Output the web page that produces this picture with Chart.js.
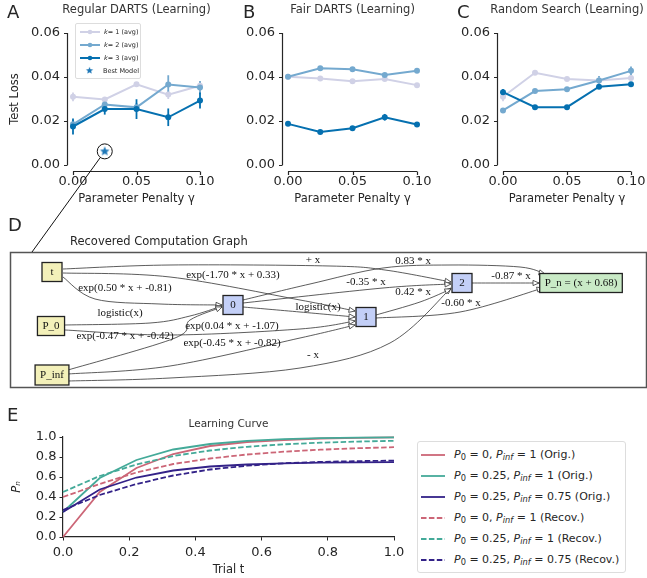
<!DOCTYPE html>
<html>
<head>
<meta charset="utf-8">
<script src="https://cdn.jsdelivr.net/npm/chart.js@4.4.1/dist/chart.umd.min.js"></script>
<style>
  body { margin: 0; background: #fff; width: 647px; height: 578px; position: relative; overflow: hidden;
         font-family: "DejaVu Sans", sans-serif; color: #262626; }
  .wrap { position: absolute; }
  .letter { position: absolute; font-size: 18px; line-height: 18px; }
  .legend-a { position: absolute; left: 75px; top: 23px; width: 64px; padding: 1px 0;
              border: 1px solid #ddd; border-radius: 2px; background: rgba(255,255,255,0.85); font-size: 6.5px; }
  .legend-a .row { height: 13px; display: flex; align-items: center; }
  .legend-a svg, .legend-a img { margin-left: 4px; margin-right: 4px; }
  .legend-e { position: absolute; left: 417px; top: 441px; width: 207px; padding: 2px 0;
              border: 1px solid #ddd; border-radius: 3px; background: #fff; font-size: 11px; }
  .legend-e .row { height: 21px; display: flex; align-items: center; white-space: nowrap; }
  .legend-e svg { margin-left: 3px; margin-right: 9px; }
  sub { font-size: 0.75em; vertical-align: -0.25em; line-height: 0; }
</style>
</head>
<body>
<div class="wrap" style="left:0;top:0"><canvas id="chartA" width="216" height="212"></canvas></div>
<div class="wrap" style="left:216px;top:0"><canvas id="chartB" width="230" height="212"></canvas></div>
<div class="wrap" style="left:446px;top:0"><canvas id="chartC" width="201" height="212"></canvas></div>
<div class="wrap" style="left:0;top:212px"><canvas id="graphD" width="647" height="178"></canvas></div>
<div class="wrap" style="left:0;top:395px"><canvas id="curveE" width="410" height="183"></canvas></div>

<div class="letter" style="left:7px;top:3px">A</div>
<div class="letter" style="left:243px;top:3px">B</div>
<div class="letter" style="left:457px;top:3px">C</div>
<div class="letter" style="left:8px;top:216px">D</div>
<div class="letter" style="left:7px;top:406px">E</div>
<div style="position:absolute;left:70px;top:234px;font-size:11.5px">Recovered Computation Graph</div>

<div class="legend-a" id="legendA"></div>
<div class="legend-e" id="legendE"></div>
<canvas id="overlay" width="647" height="260" style="position:absolute;left:0;top:0;pointer-events:none"></canvas>

<script>
const FONT = '"DejaVu Sans", sans-serif';
const SERIF = '"Liberation Serif", "DejaVu Serif", serif';
const INK = '#262626';

// ---- panels A-C: test loss vs parameter penalty ----
const gammas = [0, 0.025, 0.05, 0.075, 0.1];
const gammaTicks = [0, 0.05, 0.1];
const lossTicks = [0, 0.02, 0.04, 0.06];
const kLabels = ['k = 1 (avg)', 'k = 2 (avg)', 'k = 3 (avg)'];
const kColors = ['#d0d1e6', '#74a9cf', '#0570b0'];

const dartsK1 = [0.0310, 0.0298, 0.0367, 0.0320, 0.0360];
const dartsK2 = [0.0185, 0.0275, 0.0262, 0.0366, 0.0352];
const dartsK3 = [0.0175, 0.0254, 0.0254, 0.0217, 0.0293];
const dartsK1Err = [0.0020, 0.0010, 0.0010, 0.0020, 0.0020];
const dartsK2Err = [0.0020, 0.0015, 0.0020, 0.0042, 0.0030];
const dartsK3Err = [0.0036, 0.0025, 0.0045, 0.0040, 0.0036];
const bestGamma = 0.025;
const bestLoss = 0.0062;

const fairK1 = [0.0401, 0.0393, 0.0381, 0.0391, 0.0363];
const fairK2 = [0.0401, 0.0440, 0.0435, 0.0409, 0.0428];
const fairK3 = [0.0187, 0.0150, 0.0167, 0.0217, 0.0184];
const fairK1Err = [0.0005, 0.0005, 0.0005, 0.0005, 0.0005];
const fairK2Err = [0.0005, 0.0005, 0.0005, 0.0005, 0.0005];
const fairK3Err = [0.0005, 0.0005, 0.0005, 0.0015, 0.0010];

const randK1 = [0.0310, 0.0419, 0.0391, 0.0384, 0.0395];
const randK2 = [0.0248, 0.0336, 0.0344, 0.0384, 0.0428];
const randK3 = [0.0331, 0.0263, 0.0263, 0.0356, 0.0367];
const randK1Err = [0.0020, 0.0005, 0.0005, 0.0005, 0.0005];
const randK2Err = [0.0005, 0.0005, 0.0005, 0.0020, 0.0020];
const randK3Err = [0.0015, 0.0005, 0.0005, 0.0005, 0.0005];

// ---- panel D: recovered computation graph ----
const graphNodes = ['t', 'P_0', 'P_inf', '0', '1', '2', 'P_n = (x + 0.68)'];
const nodeKinds = ['in', 'in', 'in', 'hid', 'hid', 'hid', 'out'];
const graphEdges = [
  ['t', '2', '+ x'],
  ['t', '1', 'exp(-1.70 * x + 0.33)'],
  ['t', '0', 'exp(0.50 * x + -0.81)'],
  ['P_0', '0', 'logistic(x)'],
  ['P_0', '1', 'exp(0.04 * x + -1.07)'],
  ['P_inf', '0', 'exp(-0.47 * x + -0.42)'],
  ['P_inf', '1', 'exp(-0.45 * x + -0.82)'],
  ['P_inf', '2', '- x'],
  ['0', '1', 'logistic(x)'],
  ['0', '2', '-0.35 * x'],
  ['0', 'P_n = (x + 0.68)', '0.83 * x'],
  ['1', '2', '0.42 * x'],
  ['1', 'P_n = (x + 0.68)', '-0.60 * x'],
  ['2', 'P_n = (x + 0.68)', '-0.87 * x']
];

// graph layout (page coordinates of the drawing, not data)
const nodePos = [[52, 272], [51, 326], [52, 375], [233, 305], [366, 317], [462, 283], [581, 283]];
const edgeRoutes = [
  [[63, 269], [170, 265], [330, 266], [385, 270], [451, 282]],
  [[63, 273], [170, 277], [300, 300], [355, 311]],
  [[63, 277], [95, 299], [160, 304], [222, 305]],
  [[65, 325], [150, 323], [190, 316], [222, 306]],
  [[65, 330], [170, 335], [300, 329], [355, 321]],
  [[68, 370], [175, 338], [190, 320], [222, 307]],
  [[68, 374], [170, 366], [300, 338], [355, 325]],
  [[68, 381], [170, 378], [300, 368], [390, 343], [451, 288]],
  [[243, 307], [300, 312], [355, 317]],
  [[243, 303], [383, 288], [451, 284]],
  [[243, 300], [310, 284], [383, 268], [450, 265], [520, 267], [545, 274]],
  [[376, 315], [420, 302], [451, 289]],
  [[376, 318], [460, 312], [543, 288]],
  [[472, 283], [539, 283]]
];
const edgeLabelPos = [[313, 260], [233, 275], [125, 288], [120, 313], [232, 326], [125, 336], [232, 343],
  [313, 355], [318, 307], [366, 282], [413, 261], [413, 292], [461, 303], [511, 276]];
const nodeFill = {in: '#f3f0b9', hid: '#c3cff7', out: '#c9eac6'};

// ---- panel E: learning curves ----
const trialT = [0, 0.111, 0.222, 0.333, 0.444, 0.556, 0.667, 0.778, 0.889, 1.0];
const trialTicks = [0, 0.2, 0.4, 0.6, 0.8, 1.0];
const pTicks = [0, 0.2, 0.4, 0.6, 0.8, 1.0];
const origA = [0.00, 0.45, 0.69, 0.83, 0.91, 0.95, 0.97, 0.985, 0.992, 0.996];
const origB = [0.25, 0.59, 0.77, 0.875, 0.93, 0.962, 0.978, 0.988, 0.994, 0.997];
const origC = [0.25, 0.475, 0.595, 0.665, 0.705, 0.725, 0.737, 0.743, 0.746, 0.748];
const recovA = [0.40, 0.53, 0.645, 0.73, 0.785, 0.825, 0.853, 0.873, 0.888, 0.898];
const recovB = [0.45, 0.61, 0.725, 0.81, 0.865, 0.902, 0.927, 0.943, 0.954, 0.962];
const recovC = [0.27, 0.42, 0.53, 0.615, 0.675, 0.713, 0.737, 0.751, 0.759, 0.764];
const curveLabels = ['P0 = 0, Pinf = 1 (Orig.)', 'P0 = 0.25, Pinf = 1 (Orig.)', 'P0 = 0.25, Pinf = 0.75 (Orig.)',
  'P0 = 0, Pinf = 1 (Recov.)', 'P0 = 0.25, Pinf = 1 (Recov.)', 'P0 = 0.25, Pinf = 0.75 (Recov.)'];
const curveLegendHtml = [
  '<i>P</i><sub>0</sub> = 0, <i>P</i><sub><i>inf</i></sub> = 1 (Orig.)',
  '<i>P</i><sub>0</sub> = 0.25, <i>P</i><sub><i>inf</i></sub> = 1 (Orig.)',
  '<i>P</i><sub>0</sub> = 0.25, <i>P</i><sub><i>inf</i></sub> = 0.75 (Orig.)',
  '<i>P</i><sub>0</sub> = 0, <i>P</i><sub><i>inf</i></sub> = 1 (Recov.)',
  '<i>P</i><sub>0</sub> = 0.25, <i>P</i><sub><i>inf</i></sub> = 1 (Recov.)',
  '<i>P</i><sub>0</sub> = 0.25, <i>P</i><sub><i>inf</i></sub> = 0.75 (Recov.)'
];
const curveColors = ['#cc6677', '#44aa99', '#332288'];

function xy(xs, ys) { return xs.map((x, i) => ({x: x, y: ys[i]})); }

function starImage(r, color) {
  const c = document.createElement('canvas');
  c.width = c.height = 2 * r + 2;
  const g = c.getContext('2d');
  g.fillStyle = color;
  g.beginPath();
  for (let i = 0; i < 10; i++) {
    const rad = i % 2 ? r * 0.45 : r;
    const a = -Math.PI / 2 + i * Math.PI / 5;
    g.lineTo(r + 1 + rad * Math.cos(a), r + 1 + rad * Math.sin(a));
  }
  g.closePath();
  g.fill();
  return c;
}
const star = starImage(5, '#1f78b8');

// error bars under the lines
const errorBars = {
  id: 'errorBars',
  beforeDatasetsDraw(chart) {
    const {ctx, scales: {x, y}} = chart;
    ctx.save();
    chart.data.datasets.forEach(ds => {
      if (!ds.errors) return;
      ctx.strokeStyle = ds.borderColor;
      ctx.lineWidth = 1.8;
      ds.data.forEach((p, i) => {
        const px = x.getPixelForValue(p.x);
        ctx.beginPath();
        ctx.moveTo(px, y.getPixelForValue(p.y - ds.errors[i]));
        ctx.lineTo(px, y.getPixelForValue(p.y + ds.errors[i]));
        ctx.stroke();
      });
    });
    ctx.restore();
  }
};

// seaborn-style trimmed, offset spines
const offsetAxes = {
  id: 'offsetAxes',
  afterDraw(chart, args, opts) {
    if (!opts || !opts.offset) return;
    const {ctx, chartArea: a, scales: {x, y}} = chart;
    const off = opts.offset;
    ctx.save();
    ctx.strokeStyle = INK;
    ctx.lineWidth = 1.2;
    ctx.beginPath();
    const lx = Math.round(a.left - off) + 0.5;
    ctx.moveTo(lx, y.getPixelForValue(y.max));
    ctx.lineTo(lx, y.getPixelForValue(y.min));
    y.ticks.forEach(t => {
      const py = Math.round(y.getPixelForValue(t.value)) + 0.5;
      ctx.moveTo(lx - 3.5, py); ctx.lineTo(lx, py);
    });
    const by = Math.round(a.bottom + off) + 0.5;
    ctx.moveTo(x.getPixelForValue(x.min), by);
    ctx.lineTo(x.getPixelForValue(x.max), by);
    x.ticks.forEach(t => {
      const px = Math.round(x.getPixelForValue(t.value)) + 0.5;
      ctx.moveTo(px, by); ctx.lineTo(px, by + 3.5);
    });
    ctx.stroke();
    ctx.restore();
  }
};

// axes title centred over the plot area, drawn at full width
const axTitle = {
  id: 'axTitle',
  afterDraw(chart, args, opts) {
    if (!opts || !opts.text) return;
    const {ctx, chartArea: a} = chart;
    ctx.save();
    ctx.fillStyle = '#333';
    ctx.font = opts.size + 'px ' + FONT;
    ctx.textAlign = 'center';
    ctx.textBaseline = 'middle';
    ctx.fillText(opts.text, (a.left + a.right) / 2, opts.y);
    ctx.restore();
  }
};

function topChart(id, series, errs, opt) {
  const datasets = series.map((s, i) => ({
    label: kLabels[i],
    data: xy(gammas, s),
    errors: errs[i],
    borderColor: kColors[i],
    backgroundColor: kColors[i],
    borderWidth: 2,
    pointRadius: 3,
    pointBorderWidth: 0,
    tension: 0,
    clip: false,
    order: 3 - i
  }));
  if (opt.best) {
    datasets.push({
      label: 'Best Model', data: [{x: bestGamma, y: bestLoss}], showLine: false,
      pointStyle: star, pointRadius: 5, clip: false, order: 0
    });
    datasets.push({
      label: 'Best Model ring', data: [{x: bestGamma, y: bestLoss}], showLine: false,
      pointStyle: 'circle', pointRadius: 7.5, pointBackgroundColor: 'rgba(0,0,0,0)',
      pointBorderColor: '#111', pointBorderWidth: 1, clip: false, order: 0
    });
  }
  return new Chart(document.getElementById(id), {
    type: 'line',
    data: {datasets: datasets},
    plugins: [errorBars, offsetAxes, axTitle],
    options: {
      responsive: false,
      animation: false,
      events: [],
      layout: {padding: {left: 0, right: opt.right, top: 33, bottom: 0}},
      plugins: {
        legend: {display: false},
        tooltip: {enabled: false},
        axTitle: {text: opt.title, size: 11.5, y: 10},
        offsetAxes: {offset: 6}
      },
      scales: {
        x: {
          type: 'linear', min: 0, max: 0.1,
          grid: {display: false, drawTicks: false},
          border: {display: false},
          afterBuildTicks: s => { s.ticks = gammaTicks.map(v => ({value: v})); },
          afterFit: s => { s.height = 47; s.paddingLeft = 0; s.paddingRight = 0; },
          ticks: {padding: 9, maxRotation: 0, color: INK, font: {family: FONT, size: 13},
                  callback: v => v.toFixed(2)},
          title: {display: true, text: 'Parameter Penalty γ', color: INK,
                  font: {family: FONT, size: 11.5}, padding: {top: 0, bottom: 6}}
        },
        y: {
          type: 'linear', min: 0, max: 0.06,
          grid: {display: false, drawTicks: false},
          border: {display: false},
          afterBuildTicks: s => { s.ticks = lossTicks.map(v => ({value: v})); },
          afterFit: s => { s.width = opt.left; s.paddingTop = 0; s.paddingBottom = 0; },
          ticks: {padding: 13, color: INK, font: {family: FONT, size: 13},
                  callback: v => v.toFixed(2)},
          title: {display: !!opt.yTitle, text: opt.yTitle || '', color: INK,
                  font: {family: FONT, size: 11.5}, padding: {top: 8, bottom: 0}}
        }
      }
    }
  });
}

const chartA = topChart('chartA', [dartsK1, dartsK2, dartsK3], [dartsK1Err, dartsK2Err, dartsK3Err],
  {title: 'Regular DARTS (Learning)', left: 73, right: 16, yTitle: 'Test Loss', best: true});
const chartB = topChart('chartB', [fairK1, fairK2, fairK3], [fairK1Err, fairK2Err, fairK3Err],
  {title: 'Fair DARTS (Learning)', left: 72, right: 29});
const chartC = topChart('chartC', [randK1, randK2, randK3], [randK1Err, randK2Err, randK3Err],
  {title: 'Random Search (Learning)', left: 57, right: 16});

// legend for panel A
(function () {
  const el = document.getElementById('legendA');
  chartA.data.datasets.slice(0, 4).forEach(ds => {
    const row = document.createElement('div');
    row.className = 'row';
    if (ds.label === 'Best Model') {
      row.innerHTML = '<img src="' + star.toDataURL() + '" width="9" height="9" style="margin-left:9px;margin-right:9px">Best Model';
    } else {
      row.innerHTML = '<svg width="20" height="8"><line x1="0" y1="4" x2="20" y2="4" stroke="' + ds.borderColor +
        '" stroke-width="2"/><circle cx="10" cy="4" r="2.3" fill="' + ds.borderColor + '"/></svg>' +
        ds.label.replace('k', '<i>k</i>');
    }
    el.appendChild(row);
  });
})();

// ---- panel D chart ----
const graphPlugin = {
  id: 'graphPlugin',
  afterDatasetsDraw(chart) {
    const {ctx, chartArea: a, scales: {x, y}} = chart;
    const P = p => [x.getPixelForValue(p[0]), y.getPixelForValue(p[1])];
    ctx.save();
    ctx.strokeStyle = '#555';
    ctx.lineWidth = 1.5;
    ctx.strokeRect(a.left + 0.5, a.top + 0.5, a.right - a.left - 1, a.bottom - a.top - 1);

    // edges
    ctx.strokeStyle = '#333';
    ctx.lineWidth = 0.8;
    edgeRoutes.forEach(route => {
      const pts = route.map(P);
      ctx.beginPath();
      ctx.moveTo(pts[0][0], pts[0][1]);
      let c2 = pts[0];
      for (let i = 0; i < pts.length - 1; i++) {
        const p0 = pts[Math.max(i - 1, 0)], p1 = pts[i], p2 = pts[i + 1], p3 = pts[Math.min(i + 2, pts.length - 1)];
        const c1 = [p1[0] + (p2[0] - p0[0]) / 6, p1[1] + (p2[1] - p0[1]) / 6];
        c2 = [p2[0] - (p3[0] - p1[0]) / 6, p2[1] - (p3[1] - p1[1]) / 6];
        ctx.bezierCurveTo(c1[0], c1[1], c2[0], c2[1], p2[0], p2[1]);
      }
      ctx.stroke();
      // open arrowhead
      const end = pts[pts.length - 1];
      let dx = end[0] - c2[0], dy = end[1] - c2[1];
      const len = Math.hypot(dx, dy) || 1;
      dx /= len; dy /= len;
      ctx.beginPath();
      ctx.moveTo(end[0], end[1]);
      ctx.lineTo(end[0] - dx * 6 - dy * 2.6, end[1] - dy * 6 + dx * 2.6);
      ctx.lineTo(end[0] - dx * 6 + dy * 2.6, end[1] - dy * 6 - dx * 2.6);
      ctx.closePath();
      ctx.fillStyle = '#fff';
      ctx.fill();
      ctx.stroke();
    });

    // edge labels
    ctx.fillStyle = '#111';
    ctx.font = '11px ' + SERIF;
    ctx.textAlign = 'center';
    ctx.textBaseline = 'middle';
    graphEdges.forEach((e, i) => {
      const p = P(edgeLabelPos[i]);
      ctx.fillText(e[2], p[0], p[1]);
    });

    // nodes
    graphNodes.forEach((name, i) => {
      const p = P(nodePos[i]);
      const w = Math.max(20, ctx.measureText(name).width + 10);
      const h = name === 'P_inf' ? 20 : 19;
      ctx.fillStyle = nodeFill[nodeKinds[i]];
      ctx.fillRect(p[0] - w / 2, p[1] - h / 2, w, h);
      ctx.strokeStyle = '#222';
      ctx.lineWidth = 1.3;
      ctx.strokeRect(p[0] - w / 2, p[1] - h / 2, w, h);
      ctx.fillStyle = '#111';
      ctx.fillText(name, p[0], p[1] + 0.5);
    });
    ctx.restore();
  }
};

const graphD = new Chart(document.getElementById('graphD'), {
  type: 'scatter',
  data: {datasets: [{label: 'nodes', data: nodePos.map(p => ({x: p[0], y: p[1]})), pointRadius: 0}]},
  plugins: [graphPlugin],
  options: {
    responsive: false,
    animation: false,
    events: [],
    layout: {padding: {left: 10, right: 0, top: 40, bottom: 2}},
    plugins: {legend: {display: false}, tooltip: {enabled: false}},
    scales: {
      x: {type: 'linear', min: 10, max: 647, display: false},
      y: {type: 'linear', min: 252, max: 388, reverse: true, display: false}
    }
  }
});

// ---- panel E chart ----
const curveSeries = [origA, origB, origC, recovA, recovB, recovC];
const curveE = new Chart(document.getElementById('curveE'), {
  type: 'line',
  data: {
    datasets: curveSeries.map((s, i) => ({
      label: curveLabels[i],
      data: xy(trialT, s),
      borderColor: curveColors[i % 3],
      borderWidth: 1.8,
      borderDash: i < 3 ? [] : [5.5, 2.4],
      pointRadius: 0,
      tension: 0,
      clip: false,
      order: 6 - i
    }))
  },
  plugins: [axTitle],
  options: {
    responsive: false,
    animation: false,
    events: [],
    layout: {padding: {left: 0, right: 16, top: 42, bottom: 0}},
    plugins: {
      legend: {display: false},
      tooltip: {enabled: false},
      axTitle: {text: 'Learning Curve', size: 10.5, y: 29}
    },
    scales: {
      x: {
        type: 'linear', min: 0, max: 1,
        grid: {drawOnChartArea: false, drawTicks: true, tickLength: 3.5, color: INK},
        border: {display: true, color: INK, width: 1.2},
        afterBuildTicks: s => { s.ticks = trialTicks.map(v => ({value: v})); },
        afterFit: s => { s.height = 41; s.paddingLeft = 0; s.paddingRight = 0; },
        ticks: {padding: 4, maxRotation: 0, color: INK, font: {family: FONT, size: 13}, callback: v => v.toFixed(1)},
        title: {display: true, text: 'Trial t', color: INK, font: {family: FONT, size: 11.5}, padding: {top: 0, bottom: 1.5}}
      },
      y: {
        type: 'linear', min: 0, max: 1,
        grid: {drawOnChartArea: false, drawTicks: true, tickLength: 3.5, color: INK},
        border: {display: true, color: INK, width: 1.2},
        afterBuildTicks: s => { s.ticks = pTicks.map(v => ({value: v})); },
        afterFit: s => { s.width = 63; s.paddingTop = 0; s.paddingBottom = 0; },
        ticks: {padding: 3, color: INK, font: {family: FONT, size: 13}, callback: v => v.toFixed(1)},
        title: {display: true, text: 'Pₙ', color: INK, font: {family: FONT, size: 11.5, style: 'italic'}, padding: {top: 10, bottom: 0}}
      }
    }
  }
});

// legend for panel E
(function () {
  const el = document.getElementById('legendE');
  curveE.data.datasets.forEach((ds, i) => {
    const row = document.createElement('div');
    row.className = 'row';
    const dash = ds.borderDash.length ? ' stroke-dasharray="5.5 2.4"' : '';
    row.innerHTML = '<svg width="24" height="6"><line x1="0" y1="3" x2="24" y2="3" stroke="' + ds.borderColor +
      '" stroke-width="1.8"' + dash + '/></svg><span>' + curveLegendHtml[i] + '</span>';
    el.appendChild(row);
  });
})();

// connector from the best-model ring down to the graph frame
(function () {
  const g = document.getElementById('overlay').getContext('2d');
  const cx = chartA.scales.x.getPixelForValue(bestGamma);
  const cy = chartA.scales.y.getPixelForValue(bestLoss);
  const ex = graphD.chartArea.left + 22;
  const ey = graphD.chartArea.top + 212;
  const len = Math.hypot(ex - cx, ey - cy);
  g.strokeStyle = '#111';
  g.lineWidth = 1;
  g.beginPath();
  g.moveTo(cx + (ex - cx) / len * 7.5, cy + (ey - cy) / len * 7.5);
  g.lineTo(ex, ey);
  g.stroke();
})();
</script>
</body>
</html>
